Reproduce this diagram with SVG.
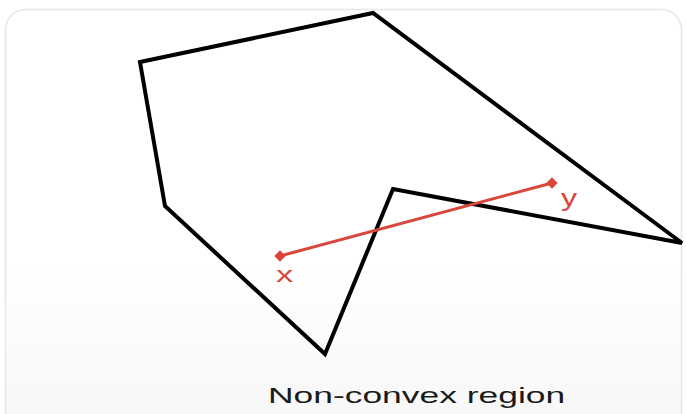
<svg xmlns="http://www.w3.org/2000/svg" width="686" height="414" viewBox="0 0 686 414">
  <defs>
    <linearGradient id="bg" x1="0" y1="0" x2="0" y2="1">
      <stop offset="0" stop-color="#ffffff"/>
      <stop offset="0.6" stop-color="#ffffff"/>
      <stop offset="1" stop-color="#f6f6f6"/>
    </linearGradient>
    <style>
      .poly { fill: none; stroke: #000; stroke-width: 4; stroke-linejoin: miter; }
      .seg { stroke: #d9463b; stroke-width: 3; fill: none; }
      .dot { fill: #d9463b; }
      .lbl { font-family: "Liberation Sans", Arial, sans-serif; fill: #d9463b; font-size: 23px; }
      .cap { font-family: "Liberation Sans", Arial, sans-serif; fill: #1a1a1a; font-size: 22px; }
    </style>
  </defs>
  <rect x="0" y="0" width="686" height="414" fill="#ffffff"/>
  <rect x="5.5" y="9.5" width="676" height="430" rx="20" fill="url(#bg)" stroke="#e6e6e6" stroke-width="1.5"/>
  <g id="region">
    <polygon class="poly" points="140,62 373,13 682,243 393,189 325,354 165,206"/>
  </g>
  <g id="connectors">
    <line class="seg" x1="280" y1="256" x2="552" y2="183"/>
  </g>
  <g id="point-x">
    <rect class="dot" x="276" y="252" width="8" height="8" transform="rotate(45 280 256)"/>
    <text class="lbl" transform="translate(276,282) scale(1.5,1)">x</text>
  </g>
  <g id="point-y">
    <rect class="dot" x="548" y="179" width="8" height="8" transform="rotate(45 552 183)"/>
    <text class="lbl" transform="translate(561,206) scale(1.4,1)">y</text>
  </g>
  <g id="caption">
    <text class="cap" transform="translate(268,403) scale(1.61,1)">Non-convex region</text>
  </g>
</svg>
